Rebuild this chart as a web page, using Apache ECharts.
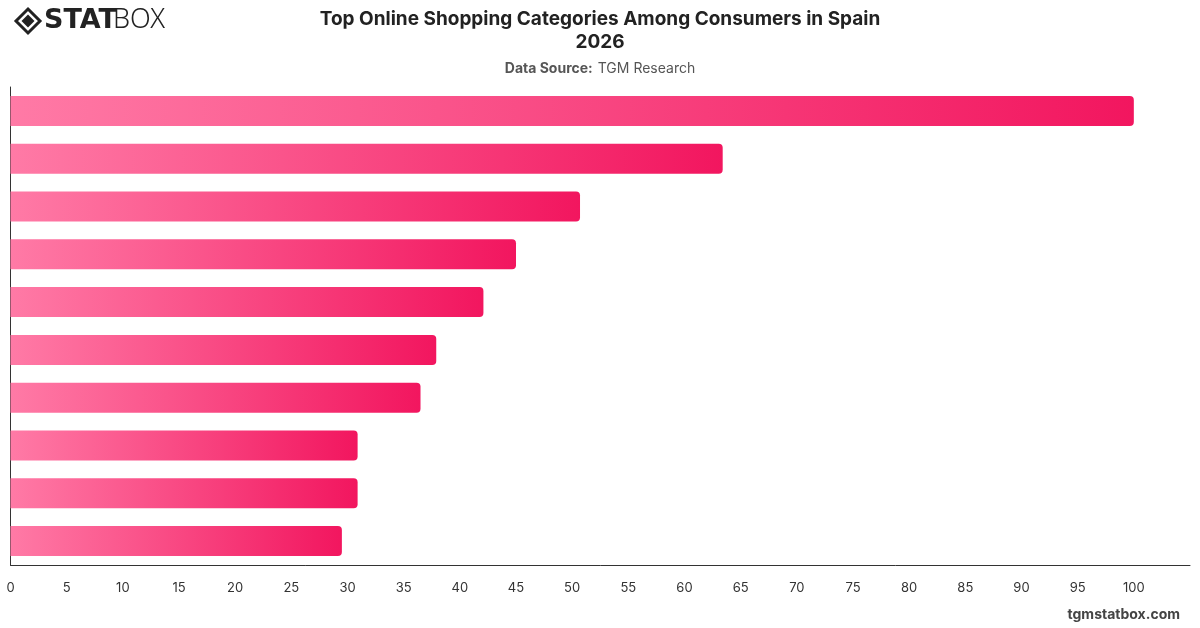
<!DOCTYPE html>
<html>
<head>
<meta charset="utf-8">
<script src="https://cdn.jsdelivr.net/npm/echarts@6/dist/echarts.min.js"></script>
<style>
html,body{margin:0;padding:0;background:#fff;}
#c{width:1200px;height:628px;}
</style>
</head>
<body>
<div id="c"></div>
<script>
// Data
const categories = ["Category 1","Category 2","Category 3","Category 4","Category 5","Category 6","Category 7","Category 8","Category 9","Category 10"];
const values = [100, 63.4, 50.7, 45.0, 42.1, 37.9, 36.5, 30.9, 30.9, 29.5];
const xTicks = [0,5,10,15,20,25,30,35,40,45,50,55,60,65,70,75,80,85,90,95,100];
const titleText = "Top Online Shopping Categories Among Consumers in Spain\n2026";
const sourceLabel = "Data Source:";
const sourceName = "TGM Research";
const footer = "tgmstatbox.com";

const chart = echarts.init(document.getElementById('c'), null, {renderer:'canvas'});
const font = "Inter, 'Noto Sans', sans-serif";
chart.setOption({
  animation:false,
  backgroundColor:'#fff',
  title:[{
    text:titleText, left:'center', top:3,
    textStyle:{fontFamily:font, fontSize:19, fontWeight:'bold', color:'#222', lineHeight:23}
  },{
    text:'{b|'+sourceLabel+'} {n|'+sourceName+'}', left:'center', top:55,
    textStyle:{fontWeight:'normal', rich:{
      b:{fontFamily:font,fontSize:14,fontWeight:'bold',color:'#555'},
      n:{fontFamily:font,fontSize:14,fontWeight:'normal',color:'#555'}
    }}
  }],
  grid:{left:10.5, right:10, top:87, bottom:63, containLabel:false},
  xAxis:{
    type:'value', min:0, max:105, interval:5,
    axisLine:{show:true, lineStyle:{color:'#333', width:1}},
    axisTick:{show:false},
    splitLine:{show:false},
    axisLabel:{showMaxLabel:false, margin:17, fontFamily:font, fontSize:13, color:'#333',
      formatter:function(v){ return xTicks.indexOf(v)>=0 ? String(v) : ''; }}
  },
  yAxis:{
    type:'category', data:categories, inverse:true,
    axisLine:{show:true, lineStyle:{color:'#333', width:1}},
    axisTick:{show:false}, axisLabel:{show:false}, splitLine:{show:false}
  },
  series:[{
    type:'bar', data:values, barWidth:30,
    itemStyle:{
      borderRadius:[0,4,4,0],
      color:new echarts.graphic.LinearGradient(0,0,1,0,[
        {offset:0,color:'#ff7aa6'},{offset:1,color:'#f2165f'}
      ])
    }
  }],
  graphic:[
    {type:'polygon', shape:{points:[[28,9],[40,21],[28,33],[16,21]]},
     style:{fill:'none', stroke:'#222', lineWidth:3}},
    {type:'polygon', shape:{points:[[28,14.5],[34.5,21],[28,27.5],[21.5,21]]},
     style:{fill:'#222'}},
    {type:'text', left:44, top:7, style:{text:'STAT', font:"900 27px 'DejaVu Sans', sans-serif", fill:'#222'}},
    {type:'text', left:113, top:7, style:{text:'BOX', font:"300 27px 'Noto Sans', sans-serif", fill:'#222'}},
    {type:'text', right:20, top:608, style:{text:footer, font:"bold 14px "+font, fill:'#444', textAlign:'right'}}
  ]
});
</script>
</body>
</html>
